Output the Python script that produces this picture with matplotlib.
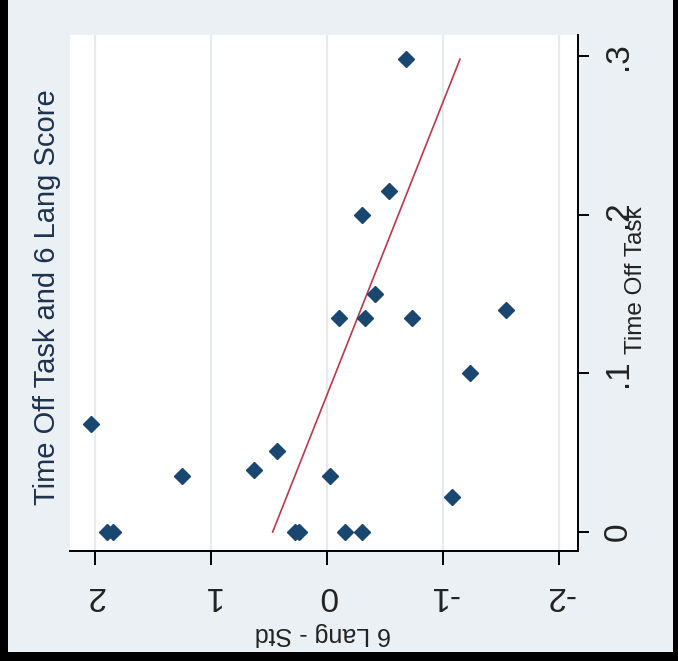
import matplotlib
matplotlib.use("Agg")
import matplotlib.pyplot as plt
from matplotlib.patches import Rectangle
from matplotlib import font_manager

# 6 Lang - Std score (horizontal, reversed) vs Time Off Task (vertical)
lang_score = [-0.68, -0.53, -0.30, -0.41, -0.10, -0.33, -0.73, -1.54, -1.23,
              2.04, 0.43, 0.63, 1.25, -0.02, -1.08, 1.90, 1.85, 0.28, 0.24,
              -0.15, -0.30]
time_off = [0.298, 0.215, 0.20, 0.15, 0.135, 0.135, 0.135, 0.14, 0.10,
            0.068, 0.051, 0.039, 0.035, 0.035, 0.022, 0.0, 0.0, 0.0, 0.0,
            0.0, 0.0]

# linear fit drawn by Stata (lfit)
fit_time = [0.0, 0.298]
fit_lang = [0.47, -1.145]

lang_ticks = [2, 1, 0, -1, -2]
time_ticks = [0, 0.1, 0.2, 0.3]
time_labels = ["0", ".1", ".2", ".3"]

navy = "#1a476f"
maroon = "#b8394d"
bg = "#eaf0f3"
text_col = "#1e3250"

plt.rcParams["font.family"] = ["Liberation Sans", "DejaVu Sans"]

# tall, narrow digits on the axes
names = {f.name for f in font_manager.fontManager.ttflist}
if "Liberation Sans Narrow" in names:
    tick_font = dict(family=["Liberation Sans Narrow", "DejaVu Sans"], size=27)
else:
    tick_font = dict(family=["Liberation Sans", "DejaVu Sans"], size=24)

fig = plt.figure(figsize=(6.78, 6.61), dpi=100, facecolor="black")
fig.patches.append(Rectangle((8 / 678, 9 / 661), 665 / 678, 652 / 661,
                             transform=fig.transFigure, facecolor=bg,
                             edgecolor="none", zorder=-10))

ax = fig.add_axes([70 / 678, 110 / 661, 508 / 678, 516 / 661])
ax.set_facecolor("white")

for v in lang_ticks:
    ax.axvline(v, color="#e4ebee", linewidth=1.6, zorder=1)

ax.plot(fit_lang, fit_time, color=maroon, linewidth=1.2, zorder=2)
ax.plot(lang_score, time_off, linestyle="none", marker="D", markersize=8,
        color=navy, zorder=3)

ax.set_xlim(2.217, -2.162)
ax.set_ylim(-0.012, 0.3132)

ax.spines["left"].set_visible(False)
ax.spines["top"].set_visible(False)
ax.spines["bottom"].set_linewidth(1.4)
ax.spines["right"].set_linewidth(1.4)

ax.yaxis.tick_right()
ax.set_xticks(lang_ticks)
ax.set_xticklabels([str(v) for v in lang_ticks], rotation=180,
                   color="#222222", **tick_font)
ax.set_yticks(time_ticks)
ax.set_yticklabels(time_labels, rotation=90, va="center",
                   color="#222222", **tick_font)
ax.tick_params(axis="x", length=10, width=1.4, pad=11)
ax.tick_params(axis="y", length=8, width=1.4, pad=10)

fig.text(323 / 678, 1 - 634 / 661, "6 Lang - Std", rotation=180,
         ha="center", va="center", fontsize=18, color="#222222")
fig.text(636 / 678, 1 - 280 / 661, "Time Off Task", rotation=90,
         ha="center", va="center", fontsize=17.5, color="#222222")
fig.text(47 / 678, 1 - 297 / 661, "Time Off Task and 6 Lang Score",
         rotation=90, ha="center", va="center", fontsize=21, color=text_col)

fig.savefig("out.png", dpi=100, facecolor=fig.get_facecolor())
